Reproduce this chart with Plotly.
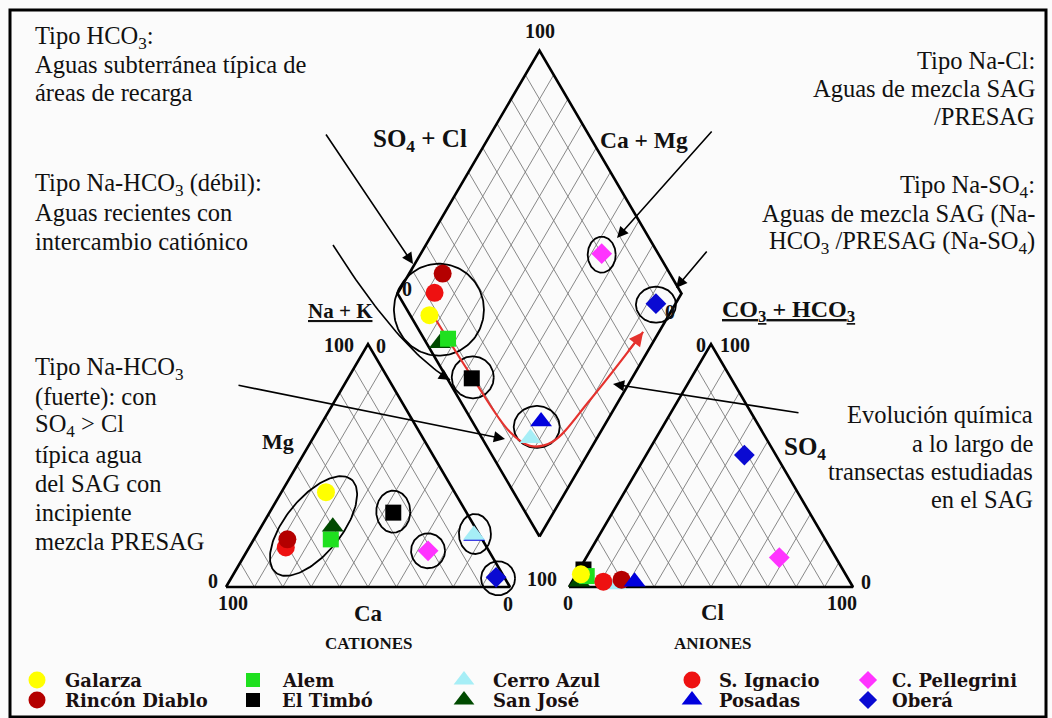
import numpy as np
import plotly.graph_objects as go

# ---------------- data (% meq/L) ----------------
samples = ["Galarza", "Rincón Diablo", "Alem", "El Timbó", "Cerro Azul",
           "San José", "S. Ignacio", "Posadas", "C. Pellegrini", "Oberá"]
ca   = [45.3, 68.6, 53.3, 25.8, 2.0, 50.0, 70.8, 2.1, 21.4, 2.9]
mg   = [39.0, 19.6, 19.6, 30.6, 21.4, 24.8, 16.3, 21.0, 14.9, 4.0]
nak  = [15.7, 11.8, 27.1, 43.6, 76.6, 25.2, 12.9, 76.9, 63.7, 93.1]
hco3 = [93.2, 80.0, 91.5, 91.3, 83.0, 95.3, 86.8, 75.8, 19.9, 11.1]
so4  = [5.2, 3.0, 4.5, 7.2, 1.0, 2.2, 2.2, 2.2, 12.1, 54.3]
cl   = [1.6, 17.0, 4.0, 1.5, 16.0, 2.5, 11.0, 22.0, 68.0, 34.6]

# evolution path (diamond coordinates: Ca+Mg, SO4+Cl)
evo_camg  = [84.4, 56.6, 31.9, 22.0, 15.0, 10.3, 5.6]
evo_so4cl = [8.0, 9.1, 11.1, 15.3, 23.9, 45.9, 78.6]

legend_rows = [["Galarza", "Alem", "Cerro Azul", "S. Ignacio", "C. Pellegrini"],
               ["Rincón Diablo", "El Timbó", "San José", "Posadas", "Oberá"]]

# ---------------- styles ----------------
style = {
    "Galarza":       dict(color="#ffff00", symbol="circle"),
    "Rincón Diablo": dict(color="#b40000", symbol="circle"),
    "Alem":          dict(color="#1fe01f", symbol="square"),
    "El Timbó":      dict(color="#000000", symbol="square"),
    "Cerro Azul":    dict(color="#a6eef6", symbol="triangle-up"),
    "San José":      dict(color="#004a00", symbol="triangle-up"),
    "S. Ignacio":    dict(color="#ee1111", symbol="circle"),
    "Posadas":       dict(color="#0000dd", symbol="triangle-up"),
    "C. Pellegrini": dict(color="#ff33ff", symbol="diamond"),
    "Oberá":         dict(color="#0a0ad2", symbol="diamond"),
}
msize = {"circle": 18, "square": 16, "triangle-up": 19, "diamond": 16}
lsize = {"circle": 17, "square": 14, "triangle-up": 18, "diamond": 14}

# ---------------- geometry ----------------
W, H = 284.0, 243.0
CX0, CY0 = 226.0, 587.0
GAP = 59.0
AX0, AY0 = CX0 + W + GAP, CY0
DBX, DBY = CX0 + W + GAP / 2, CY0 - GAP / 2 * H / (W / 2)


def cat_xy(m, n):
    m, n = np.asarray(m, float), np.asarray(n, float)
    return CX0 + n / 100 * W + m / 100 * W / 2, CY0 - m / 100 * H


def an_xy(s, c):
    s, c = np.asarray(s, float), np.asarray(c, float)
    return AX0 + c / 100 * W + s / 100 * W / 2, AY0 - s / 100 * H


def dia_xy(cm, sc):
    cm, sc = np.asarray(cm, float), np.asarray(sc, float)
    return DBX + (sc - cm) / 100 * W / 2, DBY - (cm + sc) / 100 * H


fig = go.Figure()


def add_path(xs, ys, color="black", width=1.0, shape="linear"):
    fig.add_trace(go.Scatter(x=list(xs), y=list(ys), mode="lines",
                             line=dict(color=color, width=width, shape=shape),
                             hoverinfo="skip", showlegend=False))


# grid
gx, gy = [], []
for k in range(10, 100, 10):
    for f, a, b in [(cat_xy, (0, k), (100 - k, k)), (cat_xy, (0, 100 - k), (100 - k, 0)),
                    (an_xy, (0, k), (100 - k, k)), (an_xy, (0, 100 - k), (100 - k, 0)),
                    (dia_xy, (k, 0), (k, 100)), (dia_xy, (0, k), (100, k))]:
        x1, y1 = f(*a)
        x2, y2 = f(*b)
        gx += [float(x1), float(x2), None]
        gy += [float(y1), float(y2), None]
add_path(gx, gy, color="#7a7a7a", width=0.9)

# outlines
tx, ty = cat_xy([0, 0, 100, 0], [0, 100, 0, 0])
add_path(tx, ty, width=2.6)
tx, ty = an_xy([0, 0, 100, 0], [0, 100, 0, 0])
add_path(tx, ty, width=2.6)
tx, ty = dia_xy([0, 100, 100, 0, 0], [0, 0, 100, 100, 0])
add_path(tx, ty, width=2.6)

# positions
cpx, cpy = cat_xy(mg, nak)
apx, apy = an_xy(so4, cl)
camg = np.array(ca) + np.array(mg)
so4cl = np.array(so4) + np.array(cl)
dpx, dpy = dia_xy(camg, so4cl)
idx = {s: i for i, s in enumerate(samples)}


# ellipses
def ellipse(cx, cy, rx, ry, ang=0.0, width=1.8):
    t = np.linspace(0, 2 * np.pi, 140)
    a = np.radians(ang)
    x = cx + rx * np.cos(t) * np.cos(a) - ry * np.sin(t) * np.sin(a)
    y = cy - (rx * np.cos(t) * np.sin(a) + ry * np.sin(t) * np.cos(a))
    add_path(x, y, width=width)


grp = [idx[s] for s in ["Galarza", "Rincón Diablo", "Alem", "San José", "S. Ignacio"]]
ellipse(np.mean(cpx[grp]) + 1, np.mean(cpy[grp]) - 3, 60, 28, 51)
ellipse(np.mean(dpx[grp]), np.mean(dpy[grp]) - 3, 45, 46)
i = idx["El Timbó"];      ellipse(cpx[i], cpy[i] - 1, 17, 21); ellipse(dpx[i] + 1, dpy[i] - 1, 21, 21)
i = idx["C. Pellegrini"]; ellipse(cpx[i], cpy[i], 17, 17.5); ellipse(dpx[i], dpy[i] + 1, 14, 18)
i = idx["Cerro Azul"];    ellipse(cpx[i] + 1, cpy[i] - 1, 16, 20)
i = idx["Oberá"];         ellipse(cpx[i] + 2, cpy[i] + 1, 17, 17); ellipse(dpx[i], dpy[i] + 1, 20, 18)
pp = [idx["Posadas"], idx["Cerro Azul"]]
ellipse(np.mean(dpx[pp]) + 1, np.mean(dpy[pp]) - 3, 23, 21)

# evolution path (red)
ex, ey = dia_xy(evo_camg, evo_so4cl)
add_path(ex, ey, color="#e5322e", width=2.2, shape="spline")

# curved black arrow (débil)
t = np.linspace(0, 1, 40)
p0, p1, p2 = np.array([333, 245]), np.array([398, 348]), np.array([450, 380])
bez = ((1 - t) ** 2)[:, None] * p0 + (2 * (1 - t) * t)[:, None] * p1 + (t ** 2)[:, None] * p2
add_path(bez[:, 0], bez[:, 1], width=1.6)


# sample markers by region (layer order)
def add_markers(xs, ys, order, size_map):
    for s in order:
        i = idx[s]
        st = style[s]
        fig.add_trace(go.Scatter(x=[xs[i]], y=[ys[i]], mode="markers", name=s,
                                 marker=dict(color=st["color"], symbol=st["symbol"],
                                             size=size_map[st["symbol"]], line=dict(width=0)),
                                 showlegend=False))


add_markers(cpx, cpy, ["Posadas", "Cerro Azul", "Oberá", "El Timbó", "C. Pellegrini", "Galarza",
                       "S. Ignacio", "Rincón Diablo", "Alem", "San José"], msize)
add_markers(apx, apy, ["San José", "El Timbó", "Alem", "Galarza", "Cerro Azul", "S. Ignacio",
                       "Rincón Diablo", "Posadas", "C. Pellegrini", "Oberá"], msize)
add_markers(dpx, dpy, ["Cerro Azul", "Posadas", "El Timbó", "San José", "Alem", "Galarza",
                       "S. Ignacio", "Rincón Diablo", "C. Pellegrini", "Oberá"], msize)

# legend (manual)
col_mx = [37, 253, 464, 692, 868]
col_tx = [64, 281, 492, 718, 891]
row_y = [680, 700]
annotations = []
for r, row in enumerate(legend_rows):
    for c, s in enumerate(row):
        st = style[s]
        fig.add_trace(go.Scatter(x=[col_mx[c]], y=[row_y[r]], mode="markers",
                                 marker=dict(color=st["color"], symbol=st["symbol"],
                                             size=lsize[st["symbol"]], line=dict(width=0)),
                                 hoverinfo="skip", showlegend=False))
        annotations.append(dict(x=col_tx[c], y=row_y[r], text=s, showarrow=False,
                                xanchor="left", yanchor="middle", borderpad=0,
                                font=dict(family="DejaVu Serif", size=18, color="#1a1010",
                                          weight="bold")))

SERIF = "Liberation Serif"


def txt(x, y, text, size=24.5, xanchor="center", yanchor="middle", align="center",
        bold=False, under=False):
    f = dict(family=SERIF, size=size, color="#111")
    if bold:
        f["weight"] = "bold"
    if under:
        f["lineposition"] = "under"
    annotations.append(dict(x=x, y=y, text=text, showarrow=False, xanchor=xanchor,
                            yanchor=yanchor, align=align, font=f, borderpad=0))


def block(x, ys, lines, xanchor):
    for yy, ln in zip(ys, lines):
        txt(x, yy, ln, xanchor=xanchor, align=xanchor)


# descriptive blocks (one annotation per line)
block(34, [37, 64.5, 92.5], ["Tipo HCO<sub>3</sub>:", "Aguas subterránea típica de",
                             "áreas de recarga"], "left")
block(34, [184, 212.5, 241], ["Tipo Na-HCO<sub>3</sub> (débil):", "Aguas recientes con",
                              "intercambio catiónico"], "left")
block(34, [368, 397, 425, 454, 483, 512, 541],
      ["Tipo Na-HCO<sub>3</sub>", "(fuerte): con", "SO<sub>4</sub> > Cl", "típica agua",
       "del SAG con", "incipiente", "mezcla PRESAG"], "left")
block(1036, [60, 88, 116], ["Tipo Na-Cl:", "Aguas de mezcla SAG", "/PRESAG"], "right")
block(1036, [186, 214, 242], ["Tipo Na-SO<sub>4</sub>:", "Aguas de mezcla SAG (Na-",
                              "HCO<sub>3</sub> /PRESAG (Na-SO<sub>4</sub>)"], "right")
block(1034, [414, 443, 471, 499], ["Evolución química", "a lo largo de",
                                   "transectas estudiadas", "en el SAG"], "right")

# axis labels
txt(420, 140, "SO<sub>4</sub> + Cl", size=25, bold=True)
txt(644, 140, "Ca + Mg", size=23.5, bold=True)
txt(340, 311, "Na + K", size=21, bold=True, under=True)
txt(788, 311, "CO<sub>3</sub> + HCO<sub>3</sub>", size=24, bold=True, under=True)
txt(278, 441, "Mg", size=22, bold=True)
txt(368, 613, "Ca", size=23, bold=True)
txt(712, 612, "Cl", size=23, bold=True)
txt(805, 448, "SO<sub>4</sub>", size=25, bold=True)
txt(369, 643, "CATIONES", size=17, bold=True)
txt(712, 643, "ANIONES", size=17, bold=True)

NUM = 20
txt(540, 31, "100", size=NUM, bold=True)
txt(407, 289, "0", size=NUM, bold=True)
txt(670, 312, "0", size=NUM, bold=True)
txt(339, 345, "100", size=NUM, bold=True)
txt(381, 346, "0", size=NUM, bold=True)
txt(213, 581, "0", size=NUM, bold=True)
txt(233, 603, "100", size=NUM, bold=True)
txt(508, 604, "0", size=NUM, bold=True)
txt(701, 345, "0", size=NUM, bold=True)
txt(735, 345, "100", size=NUM, bold=True)
txt(542, 579, "100", size=NUM, bold=True)
txt(568, 603, "0", size=NUM, bold=True)
txt(842, 603, "100", size=NUM, bold=True)
txt(866, 582, "0", size=NUM, bold=True)


# arrows
def arrow(tail, head, color="black", width=1.6):
    annotations.append(dict(x=head[0], y=head[1], ax=tail[0], ay=tail[1], xref="x", yref="y",
                            axref="x", ayref="y", text="", showarrow=True, arrowhead=2,
                            arrowsize=1.4, arrowwidth=width, arrowcolor=color, standoff=0))


arrow((325, 133), (413, 264))
arrow(tuple(bez[-3]), tuple(bez[-1]))
arrow((713, 130), (617, 238))
arrow((708, 250), (676, 288))
arrow((237, 385), (505, 439))
arrow((800, 413), (613, 384))
arrow((float(ex[-2] + (ex[-1] - ex[-2]) * 0.7), float(ey[-2] + (ey[-1] - ey[-2]) * 0.7)),
      (float(ex[-1]), float(ey[-1])), color="#e5322e", width=2.0)

fig.update_layout(
    width=1052, height=718, margin=dict(l=0, r=0, t=0, b=0),
    paper_bgcolor="#fbfbfb", plot_bgcolor="#fbfbfb", showlegend=False,
    xaxis=dict(range=[0, 1052], visible=False, fixedrange=True),
    yaxis=dict(range=[718, 0], visible=False, fixedrange=True),
    annotations=annotations,
    shapes=[dict(type="rect", xref="x", yref="y", x0=10, y0=10, x1=1046, y1=717,
                 line=dict(color="black", width=3))],
)

fig.write_html("out.html", config={"displayModeBar": False},
               post_script="document.body.style.margin='0';document.body.style.overflow='hidden';")
